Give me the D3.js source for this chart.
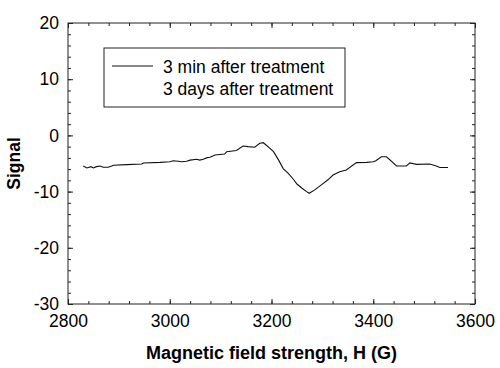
<!DOCTYPE html>
<html>
<head>
<meta charset="utf-8">
<script src="https://cdn.jsdelivr.net/npm/d3@7"></script>
<style>
  body { margin: 0; background: #fff; }
  text { font-family: "Liberation Sans", Arial, sans-serif; fill: #000; }
</style>
</head>
<body>
<div id="container"></div>
<script>
// magnetic field (G) and signal
let fieldH = [2830, 2837, 2845, 2850, 2856, 2863, 2869, 2879, 2886, 2889, 2915, 2945, 2948, 2981,
  3000, 3007, 3017, 3023, 3033, 3040, 3053, 3059, 3066, 3072, 3079, 3089, 3108, 3112, 3131,
  3144, 3154, 3167, 3177, 3184, 3197, 3204, 3214, 3223, 3233, 3243, 3250, 3260, 3269, 3274,
  3285, 3298, 3311, 3321, 3334, 3347, 3367, 3387, 3400, 3405, 3416, 3426, 3446, 3465, 3472,
  3485, 3511, 3524, 3531, 3547];
let signal3min = [-5.45, -5.8, -5.56, -5.8, -5.56, -5.45, -5.68, -5.68, -5.45, -5.3, -5.2, -5.1, -4.9, -4.8,
  -4.7, -4.5, -4.6, -4.7, -4.6, -4.4, -4.25, -4.4, -4.25, -4.0, -3.9, -3.5, -3.3, -2.9, -2.7,
  -1.9, -2.0, -2.1, -1.4, -1.3, -2.3, -2.9, -4.4, -5.9, -6.75, -7.8, -8.65, -9.4, -10.0, -10.3,
  -9.7, -8.8, -7.9, -7.05, -6.45, -6.15, -4.85, -4.8, -4.7, -4.5, -3.8, -3.8, -5.45, -5.45, -4.9,
  -5.15, -5.1, -5.45, -5.7, -5.7];

let seriesNames = ["3 min after treatment", "3 days after treatment"];
let xTicks = [2800, 3000, 3200, 3400, 3600];
let yTicks = [-30, -20, -10, 0, 10, 20];

let margin = {top: 23, right: 25, bottom: 64, left: 68},
    width = 500 - margin.left - margin.right,
    height = 368 - margin.top - margin.bottom;

let svg = d3.select("#container")
              .append("svg")
                  .attr("width", 500)
                  .attr("height", 368);

let graph = svg.append("g")
                  .attr("transform", "translate(" + margin.left + "," + margin.top + ")");

let xScale = d3.scaleLinear()
                .domain([2800, 3600])
                .range([0, width]);

let yScale = d3.scaleLinear()
                .domain([-30, 20])
                .range([height, 0]);

// minor ticks every 40 G and every 2 units
let xMinor = d3.range(2800, 3601, 40);
let yMinor = d3.range(-30, 21, 2);

function tickAxis(axis, ticks, len) {
  return axis.tickValues(ticks).tickSize(len).tickSizeOuter(0).tickFormat("");
}

// inward ticks on all four sides
let axes = [
  {gen: d3.axisTop, scale: xScale, t: "translate(0," + height + ")", major: xTicks, minor: xMinor},
  {gen: d3.axisBottom, scale: xScale, t: "translate(0,0)", major: xTicks, minor: xMinor},
  {gen: d3.axisRight, scale: yScale, t: "translate(0,0)", major: yTicks, minor: yMinor},
  {gen: d3.axisLeft, scale: yScale, t: "translate(" + width + ",0)", major: yTicks, minor: yMinor}
];
axes.forEach(function(a) {
  let gMinor = graph.append("g").attr("transform", a.t).call(tickAxis(a.gen(a.scale), a.minor, 3));
  let gMajor = graph.append("g").attr("transform", a.t).call(tickAxis(a.gen(a.scale), a.major, 5));
  [gMinor, gMajor].forEach(function(g) {
    g.select(".domain").remove();
    g.selectAll("line").attr("stroke", "#222");
  });
});

// tick labels (plain hyphen for negatives, like the original)
let plain = d => String(d);
let xAxis = d3.axisBottom(xScale).tickValues(xTicks).tickSize(0).tickPadding(11).tickFormat(plain);
let xAxisGroup = graph.append("g").attr("transform", "translate(0," + height + ")").call(xAxis);
xAxisGroup.select(".domain").remove();
xAxisGroup.selectAll("text").attr("font-size", 17.5).attr("font-family", "Liberation Sans, Arial, sans-serif");

let yAxis = d3.axisLeft(yScale).tickValues(yTicks).tickSize(0).tickPadding(9).tickFormat(plain);
let yAxisGroup = graph.append("g").call(yAxis);
yAxisGroup.select(".domain").remove();
yAxisGroup.selectAll("text").attr("font-size", 17.5).attr("font-family", "Liberation Sans, Arial, sans-serif");

// frame
graph.append("rect")
      .attr("width", width)
      .attr("height", height)
      .attr("fill", "none")
      .attr("stroke", "#222")
      .attr("stroke-width", 1);

// the trace
let points = fieldH.map(function(h, i) { return [h, signal3min[i]]; });
let line = d3.line()
              .x(d => xScale(d[0]))
              .y(d => yScale(d[1]));

graph.append("path")
      .datum(points)
      .attr("d", line)
      .attr("fill", "none")
      .attr("stroke", "#111")
      .attr("stroke-width", 1.1);

// legend
let legend = svg.append("g").attr("transform", "translate(104,48)");
legend.append("rect")
      .attr("width", 241)
      .attr("height", 59)
      .attr("fill", "#fff")
      .attr("stroke", "#222");
legend.append("line")
      .attr("x1", 8).attr("x2", 49)
      .attr("y1", 18).attr("y2", 18)
      .attr("stroke", "#111");
legend.selectAll("text.lbl")
      .data(seriesNames)
      .enter().append("text")
        .attr("class", "lbl")
        .attr("x", 59)
        .attr("y", (d, i) => 25 + i * 22)
        .attr("font-size", 17.5)
        .text(d => d);

// axis titles
svg.append("text")
    .attr("x", margin.left + width / 2)
    .attr("y", 359)
    .attr("text-anchor", "middle")
    .attr("font-size", 18)
    .attr("font-weight", "bold")
    .text("Magnetic field strength, H (G)");

svg.append("text")
    .attr("transform", "translate(20," + (margin.top + height / 2) + ") rotate(-90)")
    .attr("text-anchor", "middle")
    .attr("font-size", 17.5)
    .attr("font-weight", "bold")
    .text("Signal");
</script>
</body>
</html>
